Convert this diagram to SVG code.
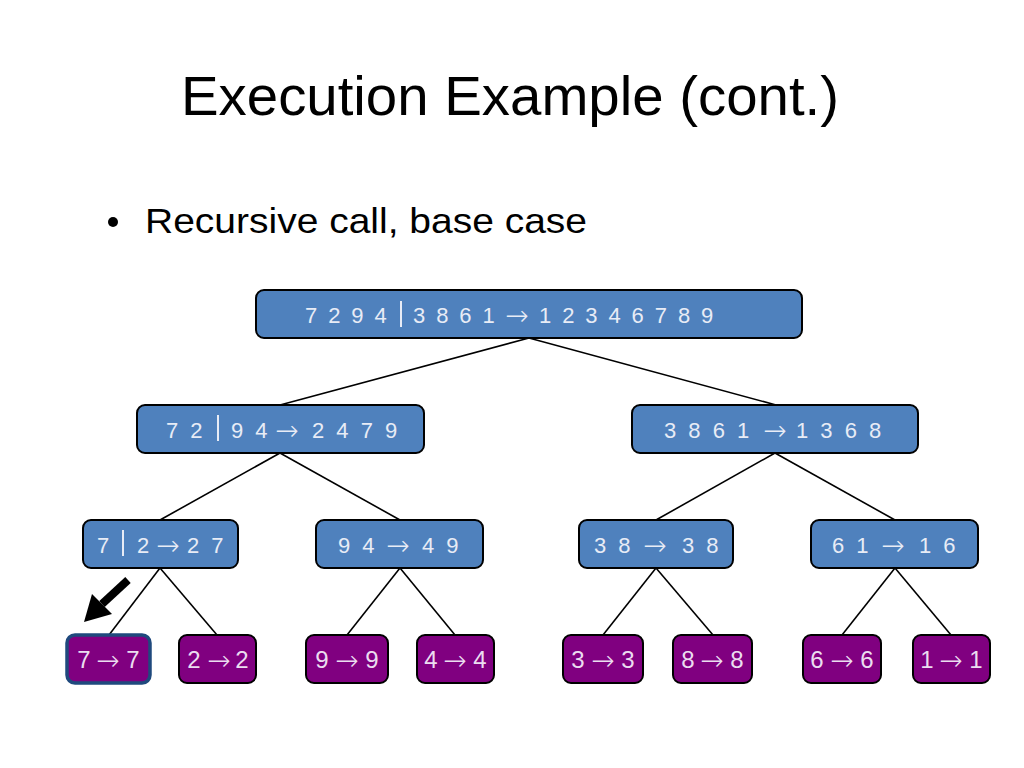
<svg xmlns="http://www.w3.org/2000/svg" width="1024" height="768" viewBox="0 0 1024 768">
<style>
  .title { font-family: "Liberation Sans", "Open Sans", sans-serif; font-size: 56px; fill: #000; }
  .bullet { font-family: "Liberation Sans", "Open Sans", sans-serif; font-size: 35px; fill: #000; }
  .blue { fill: #4F81BD; stroke: #000; stroke-width: 2; }
  .purple { fill: #800080; stroke: #000; stroke-width: 2; }
  .sel { fill: #800080; stroke: #1F497D; stroke-width: 3.5; }
  .t { font-family: "Liberation Sans", "DejaVu Sans", sans-serif; font-size: 22px; fill: #E8ECF6; letter-spacing: 3px; }
  .r { letter-spacing: 2.4px; }
  .ar { font-family: "DejaVu Sans", sans-serif; font-weight: 200; font-size: 28px; fill: #E8ECF6; text-anchor: middle; }
  .tp { font-family: "Liberation Sans", "DejaVu Sans", sans-serif; font-size: 24px; fill: #EBDDF0; text-anchor: middle; }
  .arp { font-family: "DejaVu Sans", sans-serif; font-weight: 200; font-size: 28px; fill: #EBDDF0; text-anchor: middle; }
  .bar { stroke: #E8ECF6; stroke-width: 2; }
  .edge { stroke: #000; stroke-width: 1.6; fill: none; }
</style>
<rect width="1024" height="768" fill="#fff"/>
<text class="title" x="181" y="115" textLength="658" lengthAdjust="spacingAndGlyphs">Execution Example (cont.)</text>
<circle cx="113" cy="222" r="5" fill="#000"/>
<text class="bullet" x="145" y="233" textLength="442" lengthAdjust="spacingAndGlyphs">Recursive call, base case</text>

<g id="connectors">
  <line class="edge" x1="529" y1="338" x2="280" y2="405"/>
  <line class="edge" x1="529" y1="338" x2="776" y2="405"/>
  <line class="edge" x1="280" y1="453" x2="160" y2="520"/>
  <line class="edge" x1="280" y1="453" x2="400" y2="520"/>
  <line class="edge" x1="775" y1="453" x2="656" y2="520"/>
  <line class="edge" x1="775" y1="453" x2="895" y2="520"/>
  <line class="edge" x1="160" y1="568" x2="109" y2="635"/>
  <line class="edge" x1="160" y1="568" x2="217" y2="635"/>
  <line class="edge" x1="400" y1="568" x2="347" y2="635"/>
  <line class="edge" x1="400" y1="568" x2="455" y2="635"/>
  <line class="edge" x1="656" y1="568" x2="603" y2="635"/>
  <line class="edge" x1="656" y1="568" x2="713" y2="635"/>
  <line class="edge" x1="895" y1="568" x2="842" y2="635"/>
  <line class="edge" x1="895" y1="568" x2="951" y2="635"/>
</g>

<g id="pointer">
  <line x1="128" y1="580" x2="102" y2="604" stroke="#000" stroke-width="8"/>
  <polygon points="84,622 92,594 112,614" fill="#000"/>
</g>

<g id="n-root">
  <rect class="blue" x="256" y="290" width="546" height="48" rx="8"/>
  <text class="t r" x="305" y="323">7 2 9 4</text>
  <line class="bar" x1="401" y1="301" x2="401" y2="327"/>
  <text class="t r" x="413" y="323">3 8 6 1</text>
  <text class="ar" x="517" y="325">→</text>
  <text class="t r" x="539" y="323">1 2 3 4 6 7 8 9</text>
</g>

<g id="n-7294">
  <rect class="blue" x="137" y="405" width="287" height="48" rx="8"/>
  <text class="t" x="166" y="438">7 2</text>
  <line class="bar" x1="218" y1="415" x2="218" y2="441"/>
  <text class="t" x="231" y="438">9 4</text>
  <text class="ar" x="287" y="440">→</text>
  <text class="t" x="312" y="438">2 4 7 9</text>
</g>

<g id="n-3861">
  <rect class="blue" x="632" y="405" width="286" height="48" rx="8"/>
  <text class="t" x="664" y="438">3 8 6 1</text>
  <text class="ar" x="775" y="440">→</text>
  <text class="t" x="796" y="438">1 3 6 8</text>
</g>

<g id="n-72">
  <rect class="blue" x="83" y="520" width="155" height="48" rx="8"/>
  <text class="t" x="97" y="553">7</text>
  <line class="bar" x1="123" y1="530" x2="123" y2="556"/>
  <text class="t" x="137" y="553">2</text>
  <text class="ar" x="168" y="555">→</text>
  <text class="t" x="187" y="553">2 7</text>
</g>

<g id="n-94">
  <rect class="blue" x="316" y="520" width="167" height="48" rx="8"/>
  <text class="t" x="338" y="553">9 4</text>
  <text class="ar" x="398" y="555">→</text>
  <text class="t" x="422" y="553">4 9</text>
</g>

<g id="n-38">
  <rect class="blue" x="579" y="520" width="154" height="48" rx="8"/>
  <text class="t" x="594" y="553">3 8</text>
  <text class="ar" x="655" y="555">→</text>
  <text class="t" x="682" y="553">3 8</text>
</g>

<g id="n-61">
  <rect class="blue" x="811" y="520" width="167" height="48" rx="8"/>
  <text class="t" x="832" y="553">6 1</text>
  <text class="ar" x="893" y="555">→</text>
  <text class="t" x="919" y="553">1 6</text>
</g>

<g id="n-7">
  <rect class="sel" x="67" y="635" width="83" height="48" rx="8"/>
  <text class="tp" x="84" y="668">7</text><text class="arp" x="108" y="670">→</text><text class="tp" x="133" y="668">7</text>
</g>
<g id="n-2">
  <rect class="purple" x="179" y="635" width="77" height="48" rx="8"/>
  <text class="tp" x="194" y="668">2</text><text class="arp" x="219" y="670">→</text><text class="tp" x="242" y="668">2</text>
</g>
<g id="n-9">
  <rect class="purple" x="306" y="635" width="82" height="48" rx="8"/>
  <text class="tp" x="322" y="668">9</text><text class="arp" x="347" y="670">→</text><text class="tp" x="372" y="668">9</text>
</g>
<g id="n-4">
  <rect class="purple" x="417" y="635" width="77" height="48" rx="8"/>
  <text class="tp" x="431" y="668">4</text><text class="arp" x="455" y="670">→</text><text class="tp" x="480" y="668">4</text>
</g>
<g id="n-3">
  <rect class="purple" x="563" y="635" width="80" height="48" rx="8"/>
  <text class="tp" x="578" y="668">3</text><text class="arp" x="603" y="670">→</text><text class="tp" x="628" y="668">3</text>
</g>
<g id="n-8">
  <rect class="purple" x="673" y="635" width="79" height="48" rx="8"/>
  <text class="tp" x="688" y="668">8</text><text class="arp" x="712" y="670">→</text><text class="tp" x="737" y="668">8</text>
</g>
<g id="n-6">
  <rect class="purple" x="803" y="635" width="78" height="48" rx="8"/>
  <text class="tp" x="817" y="668">6</text><text class="arp" x="842" y="670">→</text><text class="tp" x="867" y="668">6</text>
</g>
<g id="n-1">
  <rect class="purple" x="913" y="635" width="77" height="48" rx="8"/>
  <text class="tp" x="927" y="668">1</text><text class="arp" x="951" y="670">→</text><text class="tp" x="976" y="668">1</text>
</g>
</svg>
